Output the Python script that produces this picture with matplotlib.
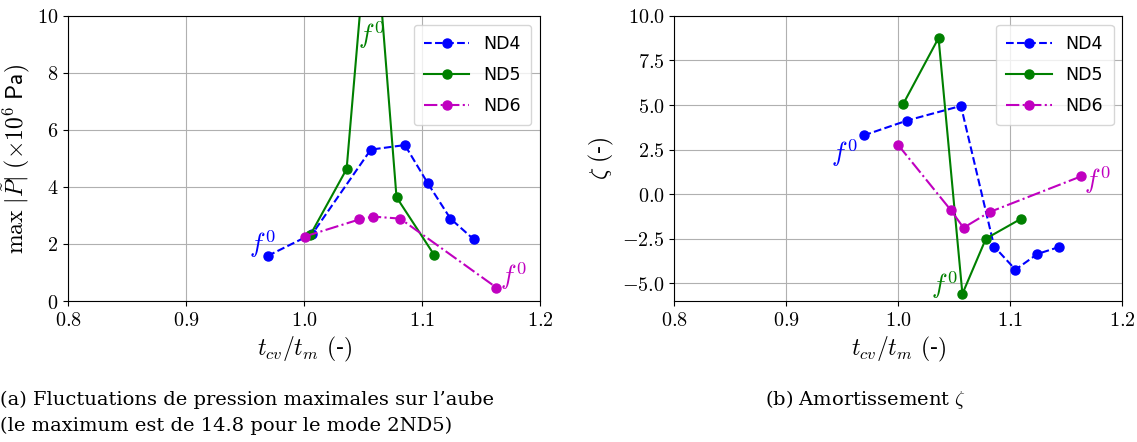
import matplotlib
matplotlib.use("Agg")
import matplotlib.pyplot as plt
from matplotlib.ticker import FuncFormatter, MultipleLocator

plt.rcParams['mathtext.fontset'] = 'cm'

# ---- data: left panel (max |P~|, x1e6 Pa) ----
x_nd4_p = [0.969, 1.007, 1.0565, 1.0854, 1.1048, 1.124, 1.1438]
y_nd4_p = [1.58, 2.36, 5.31, 5.47, 4.13, 2.89, 2.16]
x_nd5_p = [1.005, 1.036, 1.057, 1.0783, 1.110]
y_nd5_p = [2.30, 4.63, 14.8, 3.64, 1.63]
x_nd6_p = [1.0003, 1.0467, 1.0587, 1.0814, 1.163]
y_nd6_p = [2.26, 2.86, 2.96, 2.89, 0.47]

# ---- data: right panel (damping zeta) ----
x_nd4_z = [0.969, 1.008, 1.056, 1.0857, 1.1047, 1.1243, 1.1436]
y_nd4_z = [3.29, 4.13, 4.95, -2.95, -4.24, -3.36, -2.97]
x_nd5_z = [1.0042, 1.036, 1.0573, 1.0783, 1.1098]
y_nd5_z = [5.03, 8.76, -5.60, -2.50, -1.38]
x_nd6_z = [1.0, 1.0467, 1.0583, 1.0815, 1.163]
y_nd6_z = [2.75, -0.88, -1.89, -1.01, 0.99]

labels = ["ND4", "ND5", "ND6"]
colors = ["#0000ff", "#008000", "#c000c0"]
styles = ["--", "-", "-."]

fig = plt.figure(figsize=(11.37, 4.42), dpi=100)
axL = fig.add_axes([0.060, 0.319, 0.415, 0.645])
axR = fig.add_axes([0.593, 0.319, 0.394, 0.645])

def fmt1(v, pos):
    return f"${v:.1f}$"

def fmt0(v, pos):
    return f"${v:.0f}$"

for ax, data in [
    (axL, [(x_nd4_p, y_nd4_p), (x_nd5_p, y_nd5_p), (x_nd6_p, y_nd6_p)]),
    (axR, [(x_nd4_z, y_nd4_z), (x_nd5_z, y_nd5_z), (x_nd6_z, y_nd6_z)]),
]:
    for (xs, ys), lab, c, ls in zip(data, labels, colors, styles):
        ax.plot(xs, ys, ls, color=c, marker='o', markersize=6.5, linewidth=1.5, label=lab)
    ax.set_xlim(0.8, 1.2)
    ax.xaxis.set_major_locator(MultipleLocator(0.1))
    ax.xaxis.set_major_formatter(FuncFormatter(fmt1))
    ax.grid(True, color='#b0b0b0', linewidth=0.8)
    ax.tick_params(labelsize=14.5, length=3.5)
    ax.set_xlabel(r"$t_{cv}/t_m$ $($-$)$", fontsize=17, family='DejaVu Serif')
    ax.legend(loc='upper right', fontsize=12.5, handlelength=2.6, borderpad=0.6,
              labelspacing=0.75, fancybox=True)

axL.set_ylim(0, 10)
axL.yaxis.set_major_locator(MultipleLocator(2))
axL.yaxis.set_major_formatter(FuncFormatter(fmt0))
axL.set_ylabel(r"$\mathrm{max}\ |\tilde{P}|\ (\times 10^{6}\ \mathsf{Pa})$", fontsize=17)

axR.set_ylim(-6, 10)
axR.yaxis.set_major_locator(MultipleLocator(2.5))
axR.yaxis.set_major_formatter(FuncFormatter(fmt1))
axR.set_ylabel(r"$\zeta$ $($-$)$", fontsize=17, family='DejaVu Serif')

# f^0 annotations
fs = 19
axL.text(0.953, 1.7, r"$f^0$", color=colors[0], fontsize=fs)
axL.text(1.046, 9.0, r"$f^0$", color=colors[1], fontsize=fs)
axL.text(1.166, 0.55, r"$f^0$", color=colors[2], fontsize=fs)
axR.text(0.940, 1.8, r"$f^0$", color=colors[0], fontsize=fs)
axR.text(1.029, -5.6, r"$f^0$", color=colors[1], fontsize=fs)
axR.text(1.166, 0.3, r"$f^0$", color=colors[2], fontsize=fs)

# captions
fig.text(0.0, 0.084, "(a) Fluctuations de pression maximales sur l\u2019aube",
         fontsize=14, family='DejaVu Serif', va='baseline')
fig.text(0.0, 0.025, "(le maximum est de 14.8 pour le mode 2ND5)",
         fontsize=14, family='DejaVu Serif', va='baseline')
fig.text(0.673, 0.084, r"(b) Amortissement $\zeta$",
         fontsize=14, family='DejaVu Serif', va='baseline')

fig.savefig("out.png", dpi=100)
